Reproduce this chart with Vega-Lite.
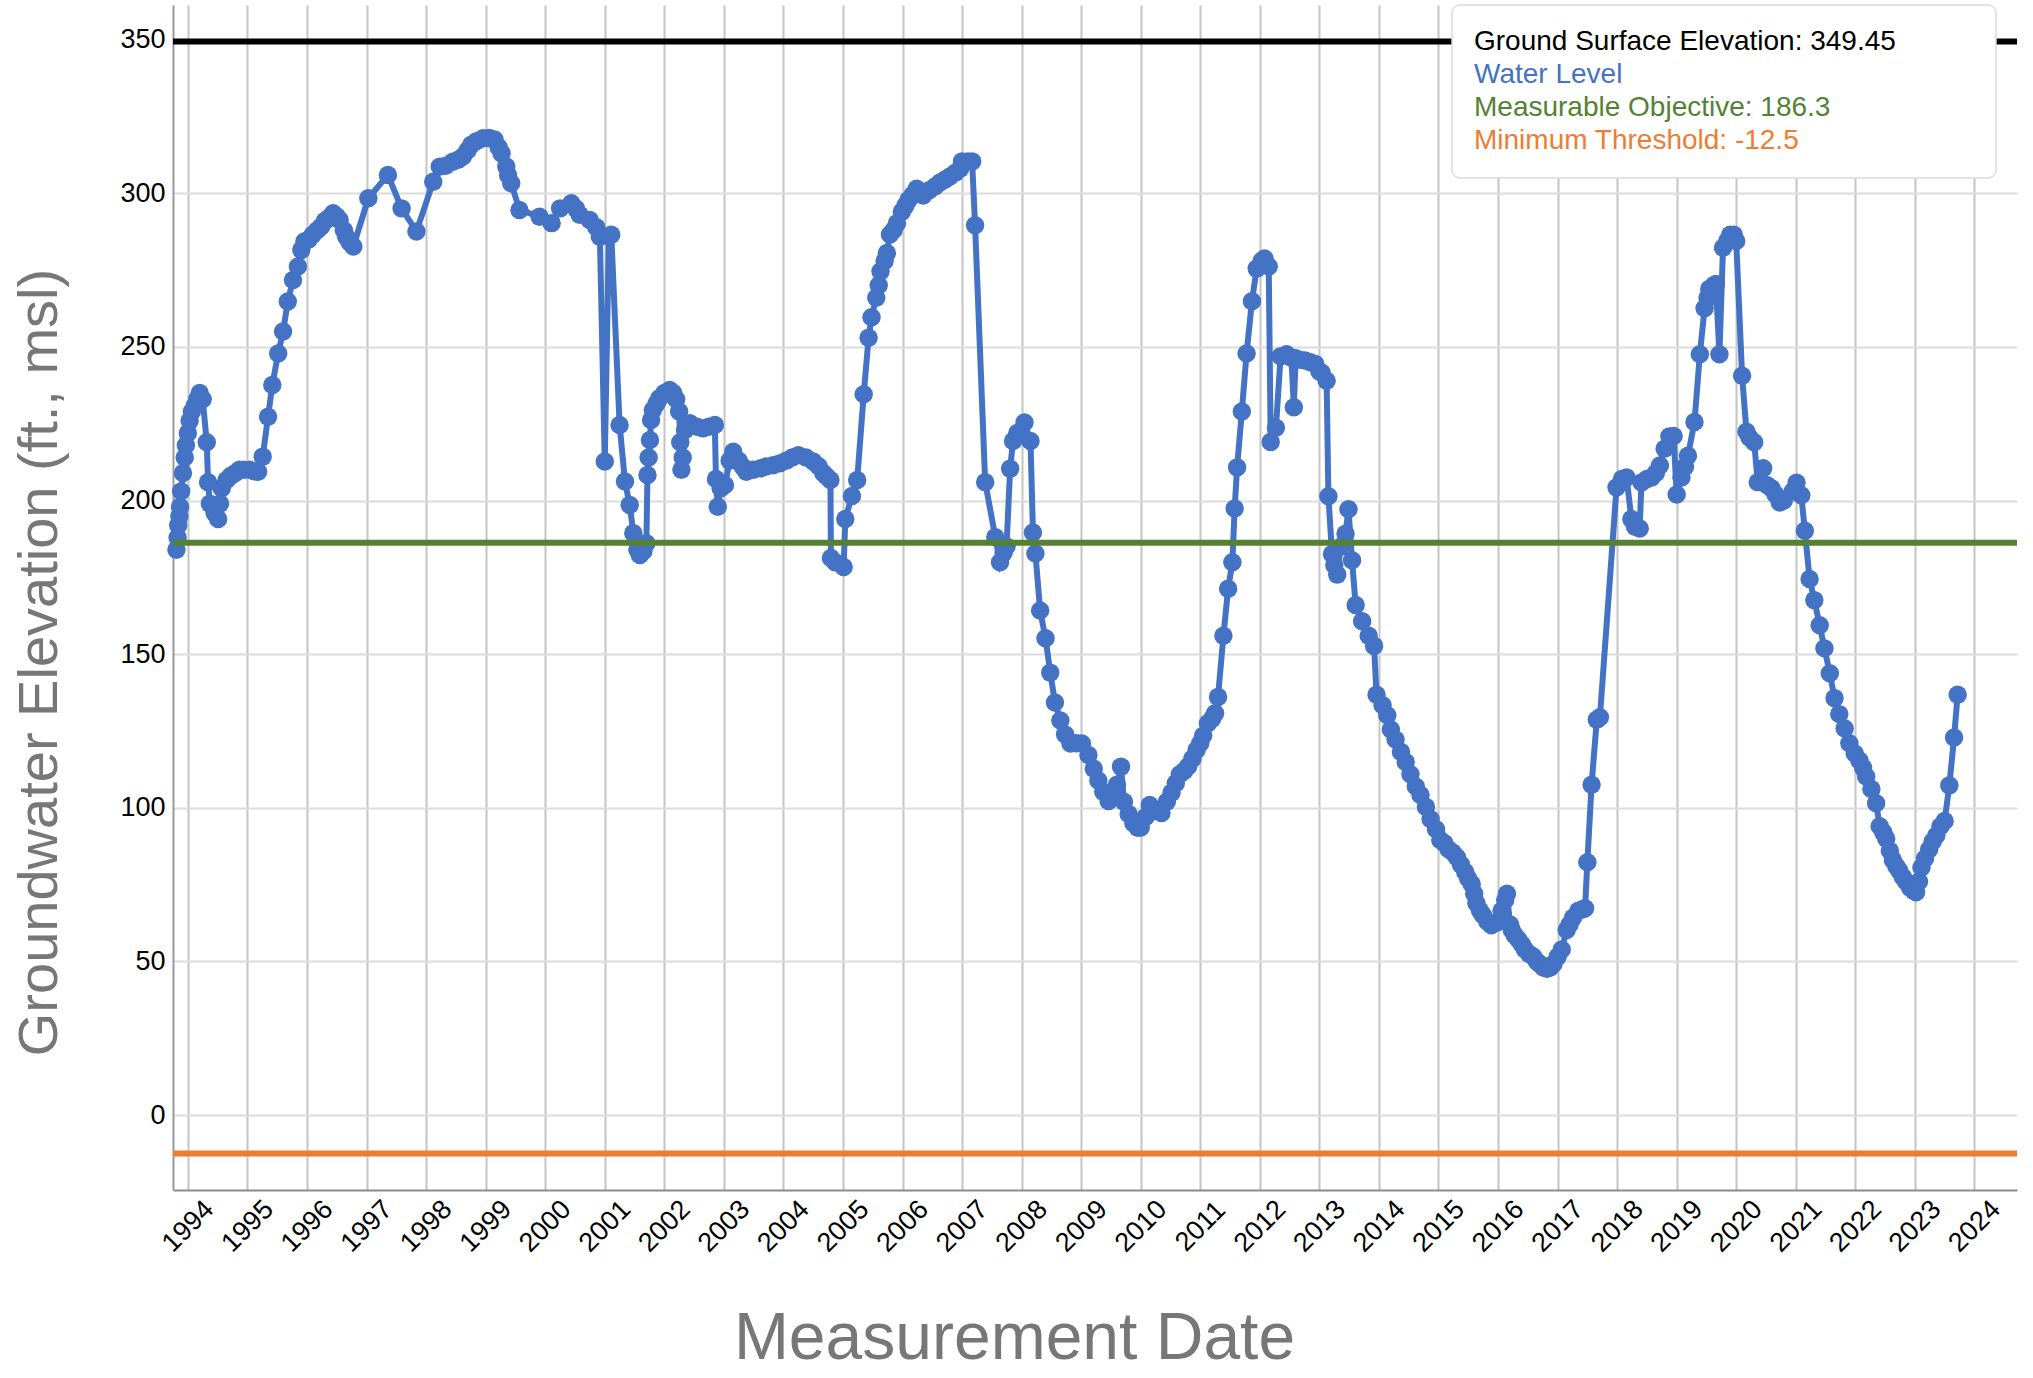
{
  "$schema": "https://vega.github.io/schema/vega-lite/v6.json",
  "width": 1844,
  "height": 1185,
  "autosize": "none",
  "padding": {"left": 173, "top": 5, "right": 16, "bottom": 188},
  "background": "white",
  "config": {
    "font": "Liberation Sans",
    "view": {"stroke": null}
  },
  "layer": [
    {
      "data": {"values": [
        {"d":"1993-10-23","v":184},{"d":"1993-10-30","v":188},{"d":"1993-11-03","v":192},{"d":"1993-11-10","v":195},{"d":"1993-11-14","v":198},{"d":"1993-11-21","v":203},{"d":"1993-12-02","v":209},{"d":"1993-12-13","v":214},{"d":"1993-12-20","v":218},
        {"d":"1994-01-01","v":222},{"d":"1994-01-12","v":226},{"d":"1994-01-26","v":229},{"d":"1994-02-14","v":231},{"d":"1994-02-28","v":233},{"d":"1994-03-15","v":235},{"d":"1994-04-02","v":233},{"d":"1994-04-27","v":219},{"d":"1994-05-05","v":206},{"d":"1994-05-16","v":199},{"d":"1994-06-14","v":196},{"d":"1994-07-06","v":194},{"d":"1994-07-17","v":199},{"d":"1994-07-28","v":204},{"d":"1994-08-26","v":206.7},{"d":"1994-09-20","v":208},{"d":"1994-10-19","v":209},{"d":"1994-11-14","v":210},{"d":"1994-12-13","v":210},
        {"d":"1995-01-15","v":210},{"d":"1995-02-14","v":209.5},{"d":"1995-03-08","v":209.4},{"d":"1995-04-05","v":214.3},{"d":"1995-05-08","v":227.3},{"d":"1995-06-03","v":237.6},{"d":"1995-07-09","v":247.9},{"d":"1995-08-08","v":255},{"d":"1995-09-06","v":264.8},{"d":"1995-10-08","v":271.8},{"d":"1995-11-07","v":276.2},{"d":"1995-11-28","v":281.6},{"d":"1995-12-17","v":284.3},
        {"d":"1996-01-12","v":285},{"d":"1996-02-06","v":286.5},{"d":"1996-03-04","v":288},{"d":"1996-03-29","v":289.2},{"d":"1996-04-20","v":291},{"d":"1996-05-12","v":291.9},{"d":"1996-06-10","v":293.5},{"d":"1996-07-02","v":292.5},{"d":"1996-07-20","v":291.3},{"d":"1996-08-15","v":288},{"d":"1996-08-29","v":285.9},{"d":"1996-09-20","v":284},{"d":"1996-10-12","v":282.7},
        {"d":"1997-01-12","v":298.4},{"d":"1997-05-12","v":306},{"d":"1997-08-04","v":295.1},{"d":"1997-11-03","v":287.6},
        {"d":"1998-02-14","v":303.8},{"d":"1998-03-26","v":308.7},{"d":"1998-05-01","v":309},{"d":"1998-06-14","v":310.3},{"d":"1998-07-20","v":311},{"d":"1998-08-15","v":312},{"d":"1998-09-13","v":314},{"d":"1998-10-05","v":315.8},{"d":"1998-11-07","v":317},{"d":"1998-12-17","v":317.9},
        {"d":"1999-01-23","v":318},{"d":"1999-02-25","v":317.5},{"d":"1999-03-22","v":315},{"d":"1999-04-09","v":313},{"d":"1999-05-08","v":308.7},{"d":"1999-05-19","v":306},{"d":"1999-06-07","v":303.3},{"d":"1999-07-28","v":294.6},{"d":"1999-11-28","v":292.4},
        {"d":"2000-02-10","v":290.3},{"d":"2000-04-02","v":295.1},{"d":"2000-06-10","v":296.8},{"d":"2000-07-09","v":295},{"d":"2000-07-31","v":293},{"d":"2000-10-01","v":291.3},{"d":"2000-11-10","v":289},{"d":"2000-12-02","v":285.9},
        {"d":"2001-01-01","v":212.7},{"d":"2001-01-26","v":286},{"d":"2001-02-10","v":286.5},{"d":"2001-04-02","v":224.6},{"d":"2001-05-05","v":206.2},{"d":"2001-06-03","v":198.6},{"d":"2001-06-25","v":189.4},{"d":"2001-07-20","v":184},{"d":"2001-08-04","v":182.3},{"d":"2001-08-26","v":183.5},{"d":"2001-09-13","v":186.1},{"d":"2001-09-20","v":208.3},{"d":"2001-09-27","v":214},{"d":"2001-10-05","v":219.7},{"d":"2001-10-12","v":226.2},{"d":"2001-10-23","v":229.5},{"d":"2001-11-14","v":231.5},{"d":"2001-12-02","v":233.3},
        {"d":"2002-01-01","v":235},{"d":"2002-02-03","v":236},{"d":"2002-02-25","v":235},{"d":"2002-03-15","v":233},{"d":"2002-04-02","v":229},{"d":"2002-04-09","v":219},{"d":"2002-04-16","v":210},{"d":"2002-04-24","v":214},{"d":"2002-05-08","v":223},{"d":"2002-06-07","v":225.2},{"d":"2002-07-20","v":224},{"d":"2002-08-26","v":223.5},{"d":"2002-10-01","v":224},{"d":"2002-11-07","v":224.6},{"d":"2002-11-14","v":207},{"d":"2002-11-25","v":198},{"d":"2002-12-13","v":204},
        {"d":"2003-01-08","v":205.1},{"d":"2003-02-06","v":213},{"d":"2003-02-28","v":215.9},{"d":"2003-04-02","v":213},{"d":"2003-04-27","v":211},{"d":"2003-05-19","v":209.4},{"d":"2003-07-02","v":210},{"d":"2003-08-15","v":210.5},{"d":"2003-09-17","v":211.1},{"d":"2003-10-30","v":211.5},{"d":"2003-12-09","v":212.1},
        {"d":"2004-01-19","v":213},{"d":"2004-02-25","v":214},{"d":"2004-04-02","v":214.8},{"d":"2004-05-19","v":214},{"d":"2004-07-02","v":212.7},{"d":"2004-08-04","v":211.2},{"d":"2004-09-02","v":209},{"d":"2004-09-20","v":208},{"d":"2004-10-16","v":206.7},{"d":"2004-10-19","v":181.3},{"d":"2004-11-14","v":179.9},
        {"d":"2005-01-05","v":178.4},{"d":"2005-01-15","v":194},{"d":"2005-02-25","v":201.5},{"d":"2005-03-29","v":206.7},{"d":"2005-05-08","v":234.6},{"d":"2005-06-07","v":253},{"d":"2005-06-25","v":259.7},{"d":"2005-07-24","v":266},{"d":"2005-08-08","v":270.1},{"d":"2005-08-19","v":274.6},{"d":"2005-09-13","v":278},{"d":"2005-09-27","v":280.6},{"d":"2005-10-16","v":286.6},{"d":"2005-11-07","v":288},{"d":"2005-11-28","v":290.3},{"d":"2005-12-28","v":294},
        {"d":"2006-01-19","v":296},{"d":"2006-02-06","v":297.8},{"d":"2006-03-04","v":299.5},{"d":"2006-03-29","v":301.5},{"d":"2006-05-08","v":299.3},{"d":"2006-06-14","v":301},{"d":"2006-07-20","v":302.2},{"d":"2006-08-19","v":303.5},{"d":"2006-09-20","v":304.5},{"d":"2006-10-19","v":305.5},{"d":"2006-11-21","v":306.7},{"d":"2006-12-20","v":308},
        {"d":"2007-01-01","v":310.4},{"d":"2007-02-06","v":310.4},{"d":"2007-03-04","v":310.4},{"d":"2007-03-22","v":289.6},{"d":"2007-05-23","v":206},{"d":"2007-07-24","v":188.1},{"d":"2007-08-22","v":179.9},{"d":"2007-09-13","v":183},{"d":"2007-10-01","v":185.1},{"d":"2007-10-23","v":210.4},{"d":"2007-11-10","v":219.4},{"d":"2007-12-06","v":222},
        {"d":"2008-01-19","v":225.4},{"d":"2008-02-25","v":219.4},{"d":"2008-03-11","v":189.6},{"d":"2008-03-26","v":182.8},{"d":"2008-04-24","v":164.2},{"d":"2008-05-27","v":155.2},{"d":"2008-06-25","v":144},{"d":"2008-07-24","v":134.3},{"d":"2008-08-26","v":128.4},{"d":"2008-09-24","v":123.9},{"d":"2008-10-27","v":120.9},{"d":"2008-12-02","v":121},
        {"d":"2009-01-05","v":120.9},{"d":"2009-02-14","v":117.2},{"d":"2009-03-19","v":112.7},{"d":"2009-04-16","v":108.9},{"d":"2009-05-16","v":105.2},{"d":"2009-06-18","v":102.2},{"d":"2009-07-09","v":104},{"d":"2009-08-08","v":107.5},{"d":"2009-09-02","v":113.4},{"d":"2009-09-20","v":102},{"d":"2009-10-19","v":98},{"d":"2009-11-17","v":95},{"d":"2009-12-13","v":93.5},
        {"d":"2010-01-01","v":93.6},{"d":"2010-01-30","v":97},{"d":"2010-02-25","v":100.9},{"d":"2010-04-02","v":99},{"d":"2010-05-08","v":98.3},{"d":"2010-06-10","v":102},{"d":"2010-07-09","v":104.9},{"d":"2010-08-04","v":108},{"d":"2010-08-29","v":110.9},{"d":"2010-09-24","v":112},{"d":"2010-10-19","v":113.5},{"d":"2010-11-14","v":116},{"d":"2010-12-09","v":118.8},
        {"d":"2011-01-01","v":121},{"d":"2011-01-19","v":123.5},{"d":"2011-02-17","v":127.5},{"d":"2011-03-15","v":129},{"d":"2011-04-02","v":130.8},{"d":"2011-04-20","v":136.1},{"d":"2011-05-23","v":156},{"d":"2011-06-21","v":171.3},{"d":"2011-07-17","v":179.9},{"d":"2011-07-31","v":197.4},{"d":"2011-08-15","v":210.8},{"d":"2011-09-13","v":229},{"d":"2011-10-12","v":247.9},{"d":"2011-11-14","v":264.9},{"d":"2011-12-13","v":275.5},
        {"d":"2012-01-12","v":278},{"d":"2012-01-30","v":278.8},{"d":"2012-02-25","v":276.2},{"d":"2012-03-08","v":219.1},{"d":"2012-04-09","v":223.7},{"d":"2012-05-08","v":247},{"d":"2012-06-14","v":247.6},{"d":"2012-07-13","v":246.5},{"d":"2012-07-28","v":230.4},{"d":"2012-08-08","v":246.3},{"d":"2012-09-06","v":245.8},{"d":"2012-10-05","v":245.6},{"d":"2012-11-07","v":245},{"d":"2012-12-06","v":244.5},
        {"d":"2013-01-01","v":242},{"d":"2013-01-15","v":241.6},{"d":"2013-02-14","v":239},{"d":"2013-02-25","v":201.4},{"d":"2013-03-19","v":182.6},{"d":"2013-04-02","v":179},{"d":"2013-04-20","v":175.9},{"d":"2013-05-12","v":185},{"d":"2013-06-10","v":189.2},{"d":"2013-06-28","v":197.2},{"d":"2013-07-20","v":180.6},{"d":"2013-08-11","v":166},{"d":"2013-09-20","v":160.7},{"d":"2013-10-30","v":156},{"d":"2013-12-02","v":152.7},{"d":"2013-12-17","v":136.8},
        {"d":"2014-01-23","v":133.4},{"d":"2014-02-21","v":130.1},{"d":"2014-03-15","v":125.5},{"d":"2014-04-13","v":122.2},{"d":"2014-05-16","v":118.2},{"d":"2014-06-14","v":114.9},{"d":"2014-07-13","v":110.9},{"d":"2014-08-15","v":106.9},{"d":"2014-09-13","v":104.2},{"d":"2014-10-16","v":100.3},{"d":"2014-11-14","v":96.3},{"d":"2014-12-17","v":93},
        {"d":"2015-01-12","v":89.5},{"d":"2015-02-06","v":88.5},{"d":"2015-03-04","v":86.5},{"d":"2015-03-29","v":85.5},{"d":"2015-04-24","v":83.9},{"d":"2015-05-19","v":81.5},{"d":"2015-06-14","v":79.1},{"d":"2015-07-02","v":77},{"d":"2015-07-24","v":75.2},{"d":"2015-08-08","v":72},{"d":"2015-08-22","v":68.9},{"d":"2015-09-13","v":66.5},{"d":"2015-10-01","v":65},{"d":"2015-10-27","v":63},{"d":"2015-11-21","v":61.8},{"d":"2015-12-24","v":62.6},
        {"d":"2016-01-23","v":66.5},{"d":"2016-02-14","v":70},{"d":"2016-02-25","v":72},{"d":"2016-03-15","v":62},{"d":"2016-03-26","v":60.2},{"d":"2016-04-13","v":58.5},{"d":"2016-05-05","v":57.1},{"d":"2016-05-27","v":55.5},{"d":"2016-06-14","v":53.9},{"d":"2016-07-09","v":52.5},{"d":"2016-08-04","v":51.6},{"d":"2016-08-26","v":50},{"d":"2016-09-13","v":49.2},{"d":"2016-10-05","v":48},{"d":"2016-10-27","v":47.6},{"d":"2016-11-17","v":48},{"d":"2016-12-06","v":49.2},
        {"d":"2017-01-01","v":51.5},{"d":"2017-01-26","v":53.9},{"d":"2017-02-25","v":60.2},{"d":"2017-03-15","v":62},{"d":"2017-04-05","v":64.2},{"d":"2017-05-08","v":66.5},{"d":"2017-06-03","v":67},{"d":"2017-06-18","v":67.3},{"d":"2017-07-02","v":82.3},{"d":"2017-07-28","v":107.5},{"d":"2017-08-29","v":128.7},{"d":"2017-09-17","v":129.5},{"d":"2017-12-28","v":204.3},
        {"d":"2018-01-30","v":207},{"d":"2018-02-28","v":207.5},{"d":"2018-03-29","v":194},{"d":"2018-04-20","v":191.5},{"d":"2018-05-19","v":190.9},{"d":"2018-05-30","v":205.9},{"d":"2018-07-02","v":207},{"d":"2018-07-31","v":207.5},{"d":"2018-08-26","v":209},{"d":"2018-09-20","v":211.4},{"d":"2018-10-19","v":216.9},{"d":"2018-11-17","v":220.9},{"d":"2018-12-13","v":221},
        {"d":"2019-01-01","v":202},{"d":"2019-01-30","v":207.5},{"d":"2019-02-21","v":211},{"d":"2019-03-11","v":214.6},{"d":"2019-04-20","v":225.6},{"d":"2019-05-23","v":247.6},{"d":"2019-06-21","v":262.6},{"d":"2019-07-09","v":266},{"d":"2019-07-20","v":268.9},{"d":"2019-08-15","v":270},{"d":"2019-08-29","v":270.5},{"d":"2019-09-20","v":247.6},{"d":"2019-10-12","v":282.3},{"d":"2019-11-07","v":284.5},{"d":"2019-11-25","v":286.5},{"d":"2019-12-17","v":286.5},
        {"d":"2020-01-01","v":284.5},{"d":"2020-02-06","v":240.6},{"d":"2020-03-04","v":222.4},{"d":"2020-03-22","v":220.5},{"d":"2020-04-20","v":219},{"d":"2020-05-12","v":206},{"d":"2020-06-14","v":210.5},{"d":"2020-07-09","v":205},{"d":"2020-08-04","v":204},{"d":"2020-08-29","v":202},{"d":"2020-09-24","v":199.4},{"d":"2020-10-19","v":200},{"d":"2020-12-13","v":203},
        {"d":"2021-01-05","v":205.8},{"d":"2021-02-03","v":201.7},{"d":"2021-02-25","v":190.2},{"d":"2021-03-26","v":174.5},{"d":"2021-04-24","v":167.6},{"d":"2021-05-27","v":159.4},{"d":"2021-06-25","v":151.9},{"d":"2021-07-28","v":143.8},{"d":"2021-08-26","v":135.7},{"d":"2021-09-24","v":130.5},{"d":"2021-10-27","v":125.8},{"d":"2021-11-25","v":121},{"d":"2021-12-28","v":117.7},
        {"d":"2022-01-26","v":115.4},{"d":"2022-02-17","v":113},{"d":"2022-03-08","v":110.2},{"d":"2022-04-09","v":106.1},{"d":"2022-05-08","v":101.5},{"d":"2022-05-30","v":94},{"d":"2022-06-21","v":92},{"d":"2022-07-09","v":89.9},{"d":"2022-07-31","v":86},{"d":"2022-08-19","v":83},{"d":"2022-09-09","v":81},{"d":"2022-09-27","v":79.5},{"d":"2022-10-19","v":77.5},{"d":"2022-11-07","v":76},{"d":"2022-12-02","v":74},{"d":"2022-12-24","v":73},
        {"d":"2023-01-08","v":72.5},{"d":"2023-01-26","v":76},{"d":"2023-02-10","v":80.6},{"d":"2023-03-04","v":83.5},{"d":"2023-03-29","v":86.4},{"d":"2023-04-20","v":89},{"d":"2023-05-12","v":91},{"d":"2023-06-07","v":94},{"d":"2023-07-02","v":95.7},{"d":"2023-07-31","v":107.3},{"d":"2023-08-29","v":122.9},{"d":"2023-09-20","v":136.8}
      ]},
      "mark": {"type": "line", "strokeWidth": 6, "point": {"filled": true, "size": 340, "opacity": 1}},
      "encoding": {
        "x": {
          "field": "d", "type": "temporal",
          "scale": {"domain": [{"year": 1993, "month": 10, "date": 2}, {"year": 2024, "month": 9, "date": 18}]},
          "axis": {
            "title": "Measurement Date", "format": "%Y", "tickCount": {"interval": "year", "step": 1},
            "labelAngle": -45, "labelAlign": "center", "labelBaseline": "middle", "labelPadding": 36,
            "ticks": false, "tickSize": 0, "labelOverlap": false, "labelFontSize": 27, "labelColor": "#000000",
            "grid": true, "gridColor": "#c4c4c4", "gridWidth": 2, "domainColor": "#8c8c8c", "domainWidth": 2,
            "titleFontSize": 66, "titleColor": "#777777", "titleFontWeight": "normal",
            "titleX": 841, "titleY": 168, "titleAlign": "center", "titleBaseline": "alphabetic"
          }
        },
        "y": {
          "field": "v", "type": "quantitative",
          "scale": {"domain": [-24.4, 361.3], "nice": false, "zero": false},
          "axis": {
            "title": "Groundwater Elevation (ft., msl)", "values": [0, 50, 100, 150, 200, 250, 300, 350],
            "ticks": false, "tickSize": 0, "labelPadding": 8, "labelFontSize": 27, "labelColor": "#000000",
            "grid": true, "gridColor": "#dcdcdc", "gridWidth": 2, "domainColor": "#999999", "domainWidth": 2,
            "titleFontSize": 56, "titleColor": "#777777", "titleFontWeight": "normal", "titleAngle": -90,
            "titleX": -117, "titleY": 657, "titleAlign": "center", "titleBaseline": "alphabetic"
          }
        },
        "color": {
          "datum": "Water Level", "type": "nominal",
          "scale": {
            "domain": ["Ground Surface Elevation: 349.45", "Water Level", "Measurable Objective: 186.3", "Minimum Threshold: -12.5"],
            "range": ["#000000", "#4472C4", "#548235", "#ED7D31"]
          },
          "legend": {
            "orient": "none", "legendX": 1279, "legendY": 0,
            "title": "MMM", "titleOpacity": 0, "titleOrient": "right", "titlePadding": 7, "titleFontSize": 28,
            "padding": 23, "fillColor": "#ffffff", "strokeColor": "#dcdcdc", "cornerRadius": 8,
            "labelFontSize": 28, "labelOffset": -29, "labelLimit": 1000, "symbolSize": 0, "symbolOpacity": 0, "symbolStrokeWidth": 0,
            "rowPadding": 5,
            "encode": {
              "labels": {"update": {"fill": {"signal": "scale('color', datum.value)"}}},
              "symbols": {"update": {"size": {"value": 0}, "strokeWidth": {"value": 0}}},
              "legend": {"update": {"strokeWidth": {"value": 1.5}}}
            }
          }
        }
      }
    },
    {
      "data": {"values": [
        {"label": "Ground Surface Elevation: 349.45", "v": 349.45},
        {"label": "Measurable Objective: 186.3", "v": 186.3},
        {"label": "Minimum Threshold: -12.5", "v": -12.5}
      ]},
      "mark": {"type": "rule", "strokeWidth": 6},
      "encoding": {
        "y": {"field": "v", "type": "quantitative"},
        "color": {
          "field": "label", "type": "nominal",
          "legend": {
            "orient": "none", "legendX": 1279, "legendY": 0,
            "title": "MMM", "titleOpacity": 0, "titleOrient": "right", "titlePadding": 7, "titleFontSize": 28,
            "padding": 23, "fillColor": "#ffffff", "strokeColor": "#dcdcdc", "cornerRadius": 8,
            "labelFontSize": 28, "labelOffset": -29, "labelLimit": 1000, "symbolSize": 0, "symbolOpacity": 0, "symbolStrokeWidth": 0,
            "rowPadding": 5,
            "encode": {
              "labels": {"update": {"fill": {"signal": "scale('color', datum.value)"}}},
              "symbols": {"update": {"size": {"value": 0}, "strokeWidth": {"value": 0}}},
              "legend": {"update": {"strokeWidth": {"value": 1.5}}}
            }
          }
        }
      }
    }
  ]
}
